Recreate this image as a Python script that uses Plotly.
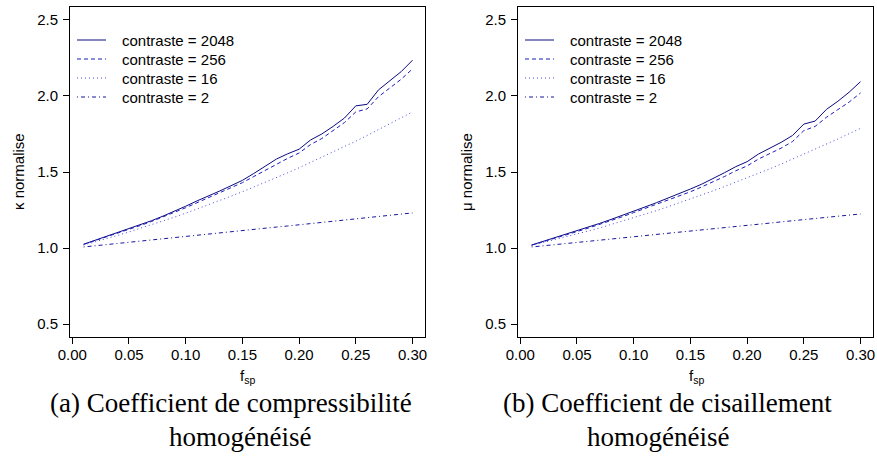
import plotly.graph_objects as go

# ---------------- data ----------------
fsp = [0.01, 0.02, 0.03, 0.04, 0.05, 0.06, 0.07, 0.08, 0.09, 0.10,
       0.11, 0.12, 0.13, 0.14, 0.15, 0.16, 0.17, 0.18, 0.19, 0.20,
       0.21, 0.22, 0.23, 0.24, 0.25, 0.26, 0.27, 0.28, 0.29, 0.30]

contrast_labels = ["contraste = 2048", "contraste = 256", "contraste = 16", "contraste = 2"]

# (a) kappa normalise
kappa_2048 = [1.025, 1.05, 1.075, 1.10, 1.125, 1.15, 1.18, 1.21, 1.24, 1.275,
              1.31, 1.34, 1.375, 1.41, 1.445, 1.49, 1.535, 1.585, 1.62, 1.65,
              1.71, 1.75, 1.80, 1.855, 1.935, 1.945, 2.04, 2.10, 2.16, 2.235]
kappa_256 = [1.024, 1.048, 1.072, 1.097, 1.122, 1.148, 1.175, 1.204, 1.233, 1.265,
             1.298, 1.33, 1.362, 1.396, 1.43, 1.47, 1.51, 1.555, 1.59, 1.625,
             1.68, 1.72, 1.77, 1.825, 1.895, 1.915, 1.995, 2.05, 2.11, 2.178]
kappa_16 = [1.02, 1.04, 1.06, 1.083, 1.106, 1.129, 1.153, 1.178, 1.203, 1.229,
            1.256, 1.284, 1.312, 1.341, 1.37, 1.40, 1.431, 1.463, 1.495, 1.528,
            1.562, 1.596, 1.631, 1.666, 1.703, 1.74, 1.778, 1.816, 1.855, 1.895]
kappa_2 = [1.007, 1.015, 1.023, 1.031, 1.039, 1.047, 1.054, 1.062, 1.070, 1.077,
           1.085, 1.092, 1.100, 1.107, 1.115, 1.122, 1.130, 1.138, 1.145, 1.153,
           1.160, 1.168, 1.176, 1.184, 1.191, 1.199, 1.207, 1.215, 1.223, 1.231]

# (b) mu normalise
mu_2048 = [1.02, 1.043, 1.066, 1.09, 1.113, 1.137, 1.162, 1.188, 1.214, 1.242,
           1.27, 1.298, 1.327, 1.357, 1.388, 1.42, 1.455, 1.495, 1.535, 1.568,
           1.618, 1.655, 1.695, 1.74, 1.815, 1.835, 1.912, 1.965, 2.025, 2.094]
mu_256 = [1.019, 1.04, 1.062, 1.085, 1.108, 1.131, 1.155, 1.18, 1.206, 1.233,
          1.26, 1.287, 1.313, 1.341, 1.37, 1.402, 1.435, 1.47, 1.508, 1.54,
          1.585, 1.62, 1.657, 1.70, 1.772, 1.80, 1.86, 1.91, 1.96, 2.02]
mu_16 = [1.017, 1.035, 1.053, 1.072, 1.091, 1.112, 1.132, 1.154, 1.176, 1.199,
         1.222, 1.246, 1.271, 1.296, 1.322, 1.348, 1.376, 1.404, 1.432, 1.461,
         1.491, 1.521, 1.552, 1.584, 1.616, 1.649, 1.683, 1.717, 1.752, 1.787]
mu_2 = [1.007, 1.014, 1.022, 1.029, 1.037, 1.044, 1.052, 1.059, 1.067, 1.074,
        1.082, 1.089, 1.097, 1.104, 1.112, 1.119, 1.127, 1.134, 1.142, 1.149,
        1.157, 1.164, 1.172, 1.179, 1.187, 1.194, 1.202, 1.209, 1.217, 1.224]

x_ticks = [0.00, 0.05, 0.10, 0.15, 0.20, 0.25, 0.30]
y_ticks = [0.5, 1.0, 1.5, 2.0, 2.5]

captions_a = ["(a) Coefficient de compressibilité", "homogénéisé"]
captions_b = ["(b) Coefficient de cisaillement", "homogénéisé"]
ytitle_a = "κ normalise"
ytitle_b = "μ normalise"
xtitle = "f<sub>sp</sub>"

# ---------------- styles ----------------
styles = [
    dict(color="#0a0a80", dash="solid"),
    dict(color="#1a1ac0", dash="4px,3px"),
    dict(color="#4a4ae0", dash="1px,3px"),
    dict(color="#1515a0", dash="1px,3px,4px,3px"),
]

W, H = 877, 470
sans = "Liberation Sans, Arial, sans-serif"
serif = "Liberation Serif, Times New Roman, serif"

fig = go.Figure()
panels = [
    ([kappa_2048, kappa_256, kappa_16, kappa_2], "x", "y"),
    ([mu_2048, mu_256, mu_16, mu_2], "x2", "y2"),
]
for series, xa, ya in panels:
    for vals, lab, st in zip(series, contrast_labels, styles):
        fig.add_trace(go.Scatter(
            x=fsp, y=vals, mode="lines", name=lab, xaxis=xa, yaxis=ya,
            showlegend=False,
            line=dict(color=st["color"], width=1, dash=st["dash"]),
        ))


def px_x(p):
    return p / W


def px_y(p):
    return 1 - p / H


ydom = [px_y(337), px_y(7)]
axis_common = dict(
    showline=True, mirror=True, linecolor="black", linewidth=1,
    ticks="outside", ticklen=6, tickcolor="black", tickwidth=1,
    showgrid=False, zeroline=False, automargin=False,
    tickfont=dict(family=sans, size=15, color="black"),
)
xr = [-0.002, 0.311]
yr = [0.415, 2.585]
fig.update_layout(
    xaxis=dict(domain=[px_x(70), px_x(425)], range=xr, tickvals=x_ticks,
               tickformat=".2f", anchor="y", ticklabelstandoff=-2, **axis_common),
    yaxis=dict(domain=ydom, range=yr, tickvals=y_ticks, tickformat=".1f",
               anchor="x", ticklabelstandoff=2, **axis_common),
    xaxis2=dict(domain=[px_x(518), px_x(873)], range=xr, tickvals=x_ticks,
                tickformat=".2f", anchor="y2", ticklabelstandoff=-2, **axis_common),
    yaxis2=dict(domain=ydom, range=yr, tickvals=y_ticks, tickformat=".1f",
                anchor="x2", ticklabelstandoff=2, **axis_common),
    showlegend=False,
)

# ---- legends (drawn inside each panel, top-left) ----
shapes = []
ann = []
leg_rows = [40, 59, 78, 97]
for x0 in [77, 525]:
    for row_y, lab, st in zip(leg_rows, contrast_labels, styles):
        shapes.append(dict(type="line", xref="paper", yref="paper",
                           x0=px_x(x0), x1=px_x(x0 + 29),
                           y0=px_y(row_y), y1=px_y(row_y),
                           line=dict(color=st["color"], width=1, dash=st["dash"])))
        ann.append(dict(x=px_x(x0 + 43), y=px_y(row_y), xref="paper", yref="paper",
                        text=lab, showarrow=False, xanchor="left", yanchor="middle",
                        font=dict(family=sans, size=15, color="black")))

for cx, txt in [(18, ytitle_a), (466, ytitle_b)]:
    ann.append(dict(x=px_x(cx), y=px_y(172), xref="paper", yref="paper",
                    text=txt, textangle=-90, showarrow=False,
                    font=dict(family=sans, size=15, color="black"),
                    xanchor="center", yanchor="middle"))
for cx in [248, 696]:
    ann.append(dict(x=px_x(cx), y=px_y(376), xref="paper", yref="paper",
                    text=xtitle, showarrow=False,
                    font=dict(family=sans, size=15, color="black"),
                    xanchor="center", yanchor="middle"))
for (c1, c2), caps in [((231, 240), captions_a), ((667, 658), captions_b)]:
    ann.append(dict(x=px_x(c1), y=px_y(403), xref="paper", yref="paper",
                    text=caps[0], showarrow=False,
                    font=dict(family=serif, size=27, color="black"),
                    xanchor="center", yanchor="middle"))
    ann.append(dict(x=px_x(c2), y=px_y(437), xref="paper", yref="paper",
                    text=caps[1], showarrow=False,
                    font=dict(family=serif, size=27, color="black"),
                    xanchor="center", yanchor="middle"))

fig.update_layout(
    annotations=ann,
    shapes=shapes,
    width=W, height=H,
    margin=dict(l=0, r=0, t=0, b=0),
    paper_bgcolor="white", plot_bgcolor="white",
)

fig.write_html(
    "out.html",
    config={"displayModeBar": False},
    post_script="document.body.style.margin='0';document.body.style.overflow='hidden';",
)
